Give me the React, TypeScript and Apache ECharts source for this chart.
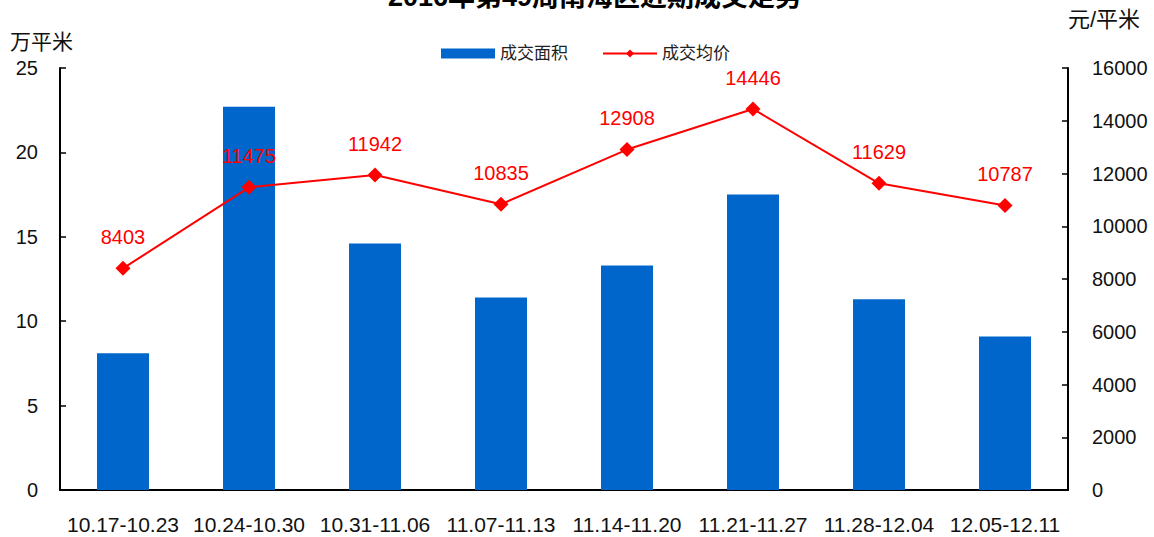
import React, { useEffect, useRef } from "react";
import * as echarts from "echarts";

const categories = [
  "10.17-10.23",
  "10.24-10.30",
  "10.31-11.06",
  "11.07-11.13",
  "11.14-11.20",
  "11.21-11.27",
  "11.28-12.04",
  "12.05-12.11",
];
const areaValues = [8.1, 22.7, 14.6, 11.4, 13.3, 17.5, 11.3, 9.1];
const priceValues = [8403, 11475, 11942, 10835, 12908, 14446, 11629, 10787];
const titleText = "2016年第49周南海区近期成交走势";
const leftAxisName = "万平米";
const rightAxisName = "元/平米";
const seriesNames = ["成交面积", "成交均价"];

const FONT = "'Liberation Sans', 'Noto Sans CJK SC', sans-serif";

export default function App() {
  const ref = useRef<HTMLDivElement>(null);
  useEffect(() => {
    if (!ref.current) return;
    const chart = echarts.init(ref.current, null, { renderer: "svg" });
    chart.setOption({
      animation: false,
      backgroundColor: "#ffffff",
      textStyle: { fontFamily: FONT },
      title: {
        text: titleText,
        left: 383,
        top: -22,
        textStyle: { fontSize: 27, fontWeight: "bold", color: "#000", fontFamily: FONT },
      },
      legend: {
        top: 40,
        left: 436,
        itemGap: 34,
        itemWidth: 54,
        itemHeight: 10,
        textStyle: { fontSize: 17, color: "#222", fontFamily: FONT },
        data: [
          { name: seriesNames[0], icon: "rect" },
          { name: seriesNames[1] },
        ],
      },
      grid: { left: 60, right: 86, top: 68, bottom: 47, containLabel: false },
      xAxis: {
        type: "category",
        data: categories,
        axisLine: { lineStyle: { color: "#000", width: 2 } },
        axisTick: { inside: true, length: 6, lineStyle: { color: "#000", width: 1.5 } },
        axisLabel: { fontSize: 21, color: "#111", margin: 24, interval: 0 },
      },
      yAxis: [
        {
          type: "value",
          min: 0,
          max: 25,
          interval: 5,
          name: leftAxisName,
          nameLocation: "end",
          nameGap: 16,
          nameTextStyle: { fontSize: 21, color: "#111", align: "left", padding: [0, 0, 0, -50] },
          axisLine: { show: true, lineStyle: { color: "#000", width: 2 } },
          axisTick: { show: true, inside: true, length: 6, lineStyle: { color: "#000", width: 1.5 } },
          axisLabel: { fontSize: 20, color: "#111", margin: 22 },
          splitLine: { show: false },
        },
        {
          type: "value",
          min: 0,
          max: 16000,
          interval: 2000,
          name: rightAxisName,
          nameLocation: "end",
          nameGap: 38,
          nameTextStyle: { fontSize: 22, color: "#111", align: "left", padding: [0, 0, 0, 0] },
          axisLine: { show: true, lineStyle: { color: "#000", width: 2 } },
          axisTick: { show: true, inside: true, length: 6, lineStyle: { color: "#000", width: 1.5 } },
          axisLabel: { fontSize: 20, color: "#111", margin: 24, formatter: (v: number) => String(v) },
          splitLine: { show: false },
        },
      ],
      series: [
        {
          name: seriesNames[0],
          type: "bar",
          data: areaValues,
          yAxisIndex: 0,
          barWidth: 52,
          itemStyle: { color: "#0066CC" },
        },
        {
          name: seriesNames[1],
          type: "line",
          data: priceValues,
          yAxisIndex: 1,
          symbol: "diamond",
          symbolSize: 15,
          lineStyle: { color: "#FF0000", width: 2 },
          itemStyle: { color: "#FF0000" },
          label: {
            show: true,
            position: "top",
            distance: 14,
            fontSize: 20,
            color: "#FF0000",
          },
        },
      ],
    });
    return () => chart.dispose();
  }, []);
  return <div ref={ref} style={{ width: 1154, height: 537, position: "absolute", left: 0, top: 0 }} />;
}
